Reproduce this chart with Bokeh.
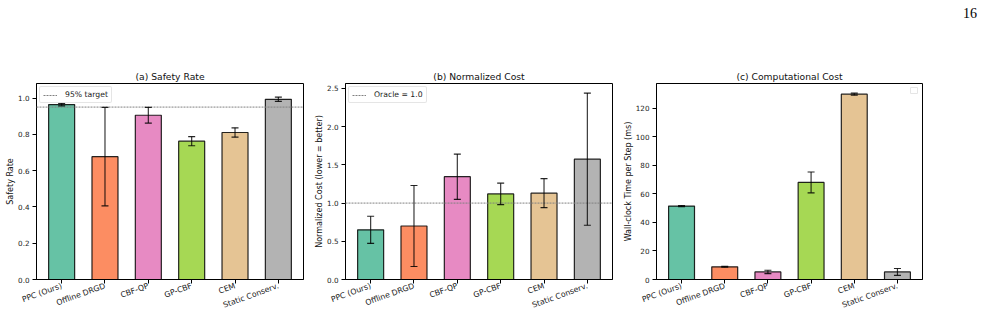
from bokeh.plotting import figure
from bokeh.layouts import row, column
from bokeh.models import (Range1d, FixedTicker, Whisker, ColumnDataSource, Div,
                          Legend, LegendItem, TeeHead, NumeralTickFormatter)
from bokeh.embed import file_html
from bokeh.resources import INLINE

# ---- data -------------------------------------------------------------
METHODS = ["PPC (Ours)", "Offline DRGD", "CBF-QP", "GP-CBF", "CEM", "Static Conserv."]
COLORS = ["#66c2a5", "#fc8d62", "#e78ac3", "#a6d854", "#e5c494", "#b3b3b3"]

SAFETY_MEAN = [0.964, 0.677, 0.905, 0.762, 0.810, 0.993]
SAFETY_ERR = [0.007, 0.271, 0.043, 0.025, 0.026, 0.012]
SAFETY_TARGET = 0.95
SAFETY_TICKS = [0.0, 0.2, 0.4, 0.6, 0.8, 1.0]

COST_MEAN = [0.650, 0.700, 1.345, 1.120, 1.130, 1.575]
COST_ERR = [0.178, 0.530, 0.297, 0.140, 0.190, 0.865]
ORACLE = 1.0
COST_TICKS = [0.0, 0.5, 1.0, 1.5, 2.0, 2.5]

TIME_MEAN = [51.5, 8.9, 5.3, 68.1, 130.0, 5.3]
TIME_ERR = [0.4, 0.3, 1.2, 7.3, 0.7, 2.4]
TIME_TICKS = [0, 20, 40, 60, 80, 100, 120]

PAGE_NUMBER = "16"

FONT = "DejaVu Sans"
HEADER_H = 30
H = 286
XPAD = 0.58          # space between the outer bars and the frame, in category units


def panel(title, ylabel, means, errs, ymax, yticks, width, left, right,
          fmt=None, ref=None, ref_label=None, empty_legend=False):
    xs = list(range(len(METHODS)))
    x_lo, x_hi = -XPAD, len(METHODS) - 1 + XPAD
    src = ColumnDataSource(dict(
        x=xs, top=means, color=COLORS,
        upper=[m + e for m, e in zip(means, errs)],
        lower=[m - e for m, e in zip(means, errs)],
    ))
    p = figure(width=width, height=H, output_backend="svg", toolbar_location=None,
               x_range=Range1d(x_lo, x_hi), y_range=Range1d(0, ymax),
               min_border_left=left, min_border_right=right,
               min_border_top=53, min_border_bottom=37)
    p.background_fill_color = "white"
    p.border_fill_color = "white"
    p.grid.visible = False
    p.outline_line_color = "black"
    p.outline_line_width = 1

    p.vbar(x="x", top="top", bottom=0, width=0.6, source=src,
           fill_color="color", fill_alpha=1.0, line_color="black",
           line_alpha=0.85, line_width=1.2)

    p.add_layout(Whisker(base="x", upper="upper", lower="lower", source=src,
                         level="overlay", line_color="black", line_alpha=0.78,
                         line_width=1.2,
                         upper_head=TeeHead(size=7, line_color="black",
                                            line_alpha=0.85, line_width=1.2),
                         lower_head=TeeHead(size=7, line_color="black",
                                            line_alpha=0.85, line_width=1.2)))

    if ref is not None:
        # horizontal reference across the whole frame, above the bars
        ref_line = p.line(x=[x_lo, x_hi], y=[ref, ref], line_color="#808080",
                          line_dash="2 1", line_width=1, level="overlay")
        leg = Legend(items=[LegendItem(label=ref_label, renderers=[ref_line])],
                     location="top_left", margin=3, padding=3, spacing=0,
                     glyph_width=14, glyph_height=8, label_height=8,
                     label_standoff=8, label_text_font=FONT,
                     label_text_font_size="7.7px", label_text_color="#222222",
                     border_line_color="#cccccc", border_line_width=0.8,
                     border_radius=2, background_fill_alpha=0.85)
        p.add_layout(leg)
    if empty_legend:
        ghost = p.line(x=[x_lo], y=[0], line_alpha=0)
        leg = Legend(items=[LegendItem(label=" ", renderers=[ghost])],
                     location="top_right", margin=4, padding=2, spacing=0,
                     glyph_width=1, glyph_height=1, label_height=1, label_width=1,
                     label_standoff=0, label_text_font_size="1px",
                     border_line_color="#cccccc", border_line_width=0.8,
                     border_radius=1, background_fill_alpha=0.85)
        p.add_layout(leg)

    p.title.text = title
    p.title.align = "center"
    p.title.text_font = FONT
    p.title.text_font_size = "9.2px"
    p.title.text_font_style = "normal"
    p.title.text_color = "#111111"
    p.title.standoff = 3

    for ax in (p.xaxis[0], p.yaxis[0]):
        ax.axis_line_color = "black"
        ax.major_tick_line_color = "black"
        ax.major_tick_out = 4
        ax.major_tick_in = 0
        ax.minor_tick_line_color = None
        ax.major_label_text_font = FONT
        ax.major_label_text_color = "#222222"
        ax.major_label_standoff = 3

    p.xaxis.ticker = FixedTicker(ticks=xs)
    p.xaxis.major_label_overrides = {i: m for i, m in enumerate(METHODS)}
    p.xaxis.major_label_orientation = 0.349
    p.xaxis.major_label_text_font_size = "7.8px"
    p.xaxis.major_label_standoff = 2

    p.yaxis.ticker = FixedTicker(ticks=yticks)
    p.yaxis.major_label_text_font_size = "7.2px"
    if fmt:
        p.yaxis.formatter = NumeralTickFormatter(format=fmt)
    p.yaxis.axis_label = ylabel
    p.yaxis.axis_label_text_font = FONT
    p.yaxis.axis_label_text_font_size = "8px"
    p.yaxis.axis_label_text_font_style = "normal"
    p.yaxis.axis_label_text_color = "#111111"
    p.yaxis.axis_label_standoff = 0
    return p


pa = panel("(a) Safety Rate", "Safety Rate", SAFETY_MEAN, SAFETY_ERR, 1.08,
           SAFETY_TICKS, 310, 36, 7, fmt="0.0", ref=SAFETY_TARGET,
           ref_label="95% target")
pb = panel("(b) Normalized Cost", "Normalized Cost (lower = better)", COST_MEAN,
           COST_ERR, 2.565, COST_TICKS, 310, 35, 8, fmt="0.0", ref=ORACLE,
           ref_label="Oracle = 1.0")
pc = panel("(c) Computational Cost", "Wall-clock Time per Step (ms)", TIME_MEAN,
           TIME_ERR, 137.5, TIME_TICKS, 364, 33, 62, empty_legend=True)

# page header with the page number at the right
header = Div(text=PAGE_NUMBER, width=984, height=HEADER_H, margin=(0, 0, 0, 0),
             styles={"font-family": "'Liberation Serif', serif", "font-size": "14px",
                     "font-weight": "normal", "color": "black",
                     "text-align": "right", "padding-right": "7px",
                     "padding-top": "7px", "box-sizing": "border-box",
                     "line-height": "14px"})

layout = column(header, row(pa, pb, pc, spacing=0), spacing=0)
open("out.html", "w").write(file_html(layout, INLINE))
